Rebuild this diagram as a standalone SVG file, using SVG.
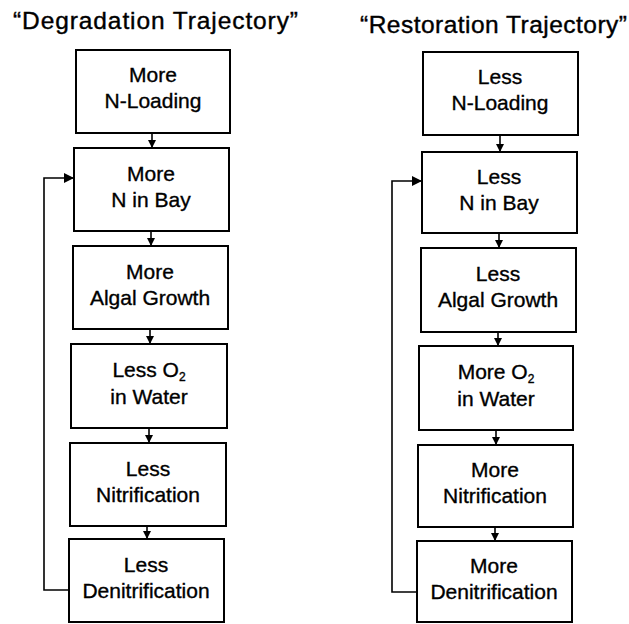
<svg xmlns="http://www.w3.org/2000/svg" width="629" height="624" viewBox="0 0 629 624">
<style>
.box{fill:#fff;stroke:#000;stroke-width:2}
.t{font-family:"Liberation Sans",Arial,sans-serif;font-size:21px;text-anchor:middle;fill:#000;stroke:#000;stroke-width:0.35}
.title{font-family:"Liberation Sans",Arial,sans-serif;font-size:24.5px;fill:#000;stroke:#000;stroke-width:0.4}
.sub{font-size:12px}
.c{fill:none;stroke:#000;stroke-width:1.6}
</style>
<defs>
<marker id="ah" viewBox="0 0 10 10" refX="10" refY="5" markerWidth="8" markerHeight="8" markerUnits="userSpaceOnUse" orient="auto">
<path d="M0,0 L10,5 L0,10 z" fill="#000"/>
</marker>
<marker id="ah2" viewBox="0 0 10 10" refX="10" refY="5" markerWidth="10" markerHeight="10" markerUnits="userSpaceOnUse" orient="auto">
<path d="M0,0 L10,5 L0,10 z" fill="#000"/>
</marker>
</defs>
<text class="title" x="13" y="29" textLength="285" lengthAdjust="spacing">“Degradation Trajectory”</text>
<text class="title" x="360" y="33" textLength="267" lengthAdjust="spacing">“Restoration Trajectory”</text>
<g id="connectors">
<line class="c" x1="152" y1="133" x2="152" y2="148" marker-end="url(#ah)"/>
<line class="c" x1="151" y1="231" x2="151" y2="246" marker-end="url(#ah)"/>
<line class="c" x1="150" y1="329" x2="150" y2="344" marker-end="url(#ah)"/>
<line class="c" x1="149" y1="428" x2="149" y2="443" marker-end="url(#ah)"/>
<line class="c" x1="147" y1="526" x2="147" y2="539" marker-end="url(#ah)"/>
<polyline class="c" points="69,590 44,590 44,178 74,178" marker-end="url(#ah2)"/>
<line class="c" x1="500" y1="135" x2="500" y2="152" marker-end="url(#ah)"/>
<line class="c" x1="499" y1="233" x2="499" y2="248" marker-end="url(#ah)"/>
<line class="c" x1="498" y1="332" x2="498" y2="346" marker-end="url(#ah)"/>
<line class="c" x1="496" y1="430" x2="496" y2="445" marker-end="url(#ah)"/>
<line class="c" x1="495" y1="527" x2="495" y2="541" marker-end="url(#ah)"/>
<polyline class="c" points="417,592 392,592 392,181 422,181" marker-end="url(#ah2)"/>
</g>
<g id="L1"><rect class="box" x="76" y="50" width="154" height="83"/><text class="t" x="153" y="82">More</text><text class="t" x="153" y="108">N-Loading</text></g>
<g id="L2"><rect class="box" x="74" y="148" width="155" height="83"/><text class="t" x="151" y="181">More</text><text class="t" x="151" y="207">N in Bay</text></g>
<g id="L3"><rect class="box" x="73" y="246" width="155" height="83"/><text class="t" x="150" y="279">More</text><text class="t" x="150" y="305">Algal Growth</text></g>
<g id="L4"><rect class="box" x="71" y="344" width="156" height="84"/><text class="t" x="149" y="377">Less O<tspan class="sub" dy="4">2</tspan></text><text class="t" x="149" y="404">in Water</text></g>
<g id="L5"><rect class="box" x="70" y="443" width="156" height="83"/><text class="t" x="148" y="476">Less</text><text class="t" x="148" y="502">Nitrification</text></g>
<g id="L6"><rect class="box" x="69" y="539" width="155" height="83"/><text class="t" x="146" y="572">Less</text><text class="t" x="146" y="598">Denitrification</text></g>
<g id="R1"><rect class="box" x="423" y="52" width="155" height="83"/><text class="t" x="500" y="84">Less</text><text class="t" x="500" y="110">N-Loading</text></g>
<g id="R2"><rect class="box" x="422" y="152" width="155" height="81"/><text class="t" x="499" y="184">Less</text><text class="t" x="499" y="210">N in Bay</text></g>
<g id="R3"><rect class="box" x="421" y="248" width="155" height="84"/><text class="t" x="498" y="281">Less</text><text class="t" x="498" y="307">Algal Growth</text></g>
<g id="R4"><rect class="box" x="419" y="346" width="154" height="84"/><text class="t" x="496" y="379">More O<tspan class="sub" dy="4">2</tspan></text><text class="t" x="496" y="406">in Water</text></g>
<g id="R5"><rect class="box" x="418" y="445" width="155" height="82"/><text class="t" x="495" y="477">More</text><text class="t" x="495" y="503">Nitrification</text></g>
<g id="R6"><rect class="box" x="417" y="541" width="155" height="81"/><text class="t" x="494" y="573">More</text><text class="t" x="494" y="599">Denitrification</text></g>
</svg>
